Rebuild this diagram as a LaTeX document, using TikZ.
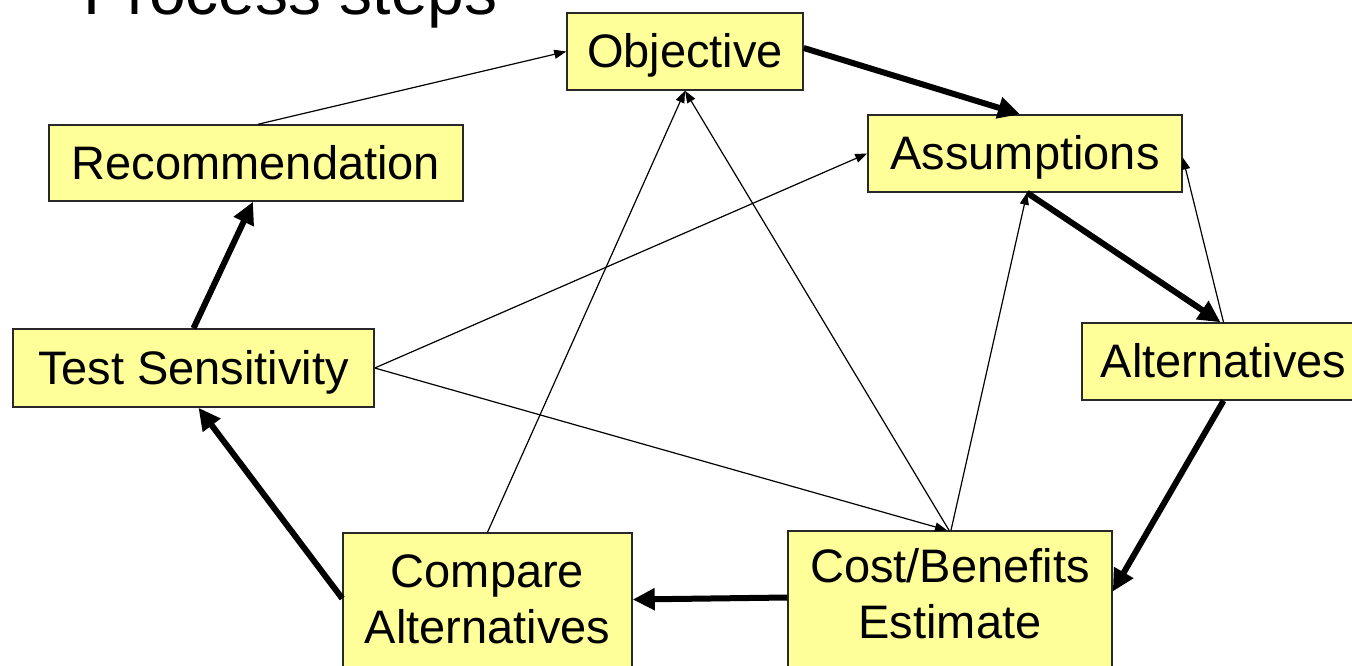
\documentclass[tikz,border=0pt]{standalone}
\usepackage{fontspec}
\setmainfont{Liberation Sans}
\usetikzlibrary{arrows.meta}
\definecolor{boxfill}{RGB}{255,255,153}
\definecolor{boxline}{RGB}{40,40,40}
\begin{document}
\begin{tikzpicture}[x=1pt,y=-1pt,
  box/.style={draw=boxline, line width=1.5pt, fill=boxfill, inner sep=0pt,
    font=\fontsize{47}{56}\selectfont, text height=38pt, text depth=6pt},
  mbox/.style={draw=boxline, line width=1.5pt, fill=boxfill, inner sep=0pt,
    align=center, font=\fontsize{47}{56}\selectfont},
  thickarrow/.style={line width=6pt, -{Triangle[length=22pt,width=21pt]}},
  thinarrow/.style={line width=1.2pt, -{Triangle[length=12pt,width=9pt]}}]
\useasboundingbox (0,0) rectangle (1352,665);
\clip (0,0) rectangle (1352,665);
\node[anchor=base west, inner sep=0pt, font=\fontsize{66}{70}\selectfont] (title) at (83,14) {Process steps};
\node[box, minimum width=236pt, minimum height=77pt] (obj) at (685,51.5) {Objective};
\node[box, minimum width=314pt, minimum height=77pt] (ass) at (1025,153.5) {Assumptions};
\node[box, minimum width=283pt, minimum height=77pt] (alt) at (1223.5,361.5) {Alternatives};
\node[mbox, minimum width=324pt, minimum height=141pt, text depth=16pt] (cb) at (950,601.5) {Cost/Benefits\\Estimate};
\node[mbox, minimum width=289pt, minimum height=141pt, text depth=8pt] (cmp) at (487.5,603.5) {Compare\\Alternatives};
\node[box, minimum width=361pt, minimum height=78pt] (ts) at (193.5,368) {Test Sensitivity};
\node[box, minimum width=414pt, minimum height=76pt] (rec) at (256,163) {Recommendation};
% thin connectors
\draw[thinarrow] ([xshift=2pt]rec.north) -- (obj.west);
\draw[thinarrow] (ts.east) -- (ass.west);
\draw[thinarrow] (ts.east) -- ([xshift=-3pt]cb.north);
\draw[thinarrow] (cmp.north) -- (obj.south);
\draw[thinarrow] ([xshift=-1pt]cb.north) -- (obj.south);
\draw[thinarrow] ([xshift=1pt]cb.north) -- ([xshift=2pt]ass.south);
\draw[thinarrow] (alt.north) -- ([yshift=-4pt]ass.east);
% thick cycle
\draw[thickarrow] ([yshift=3.5pt]obj.east) -- ([xshift=-5pt]ass.north);
\draw[thickarrow] ([xshift=2pt]ass.south) -- ([xshift=-3pt]alt.north);
\draw[thickarrow] (alt.south) -- ([yshift=10pt]cb.east);
\draw[thickarrow] ([yshift=4pt]cb.west) -- ([yshift=4pt]cmp.east);
\draw[thickarrow] ([yshift=5pt]cmp.west) -- ([xshift=5pt]ts.south);
\draw[thickarrow] (ts.north) -- ([xshift=-3pt]rec.south);
\end{tikzpicture}
\end{document}
